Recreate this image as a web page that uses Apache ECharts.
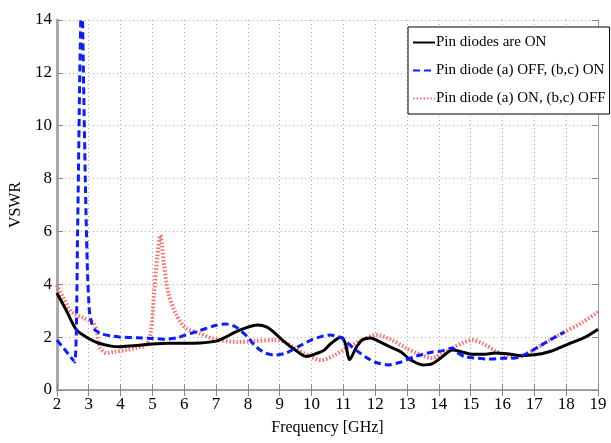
<!DOCTYPE html>
<html>
<head>
<meta charset="utf-8">
<script src="https://cdn.jsdelivr.net/npm/echarts@6/dist/echarts.min.js"></script>
<style>
  html, body { margin: 0; padding: 0; background: #fff; }
  #chart { width: 611px; height: 443px; }
</style>
</head>
<body>
<div id="chart"></div>
<script>
// x tick labels (GHz)
var xTicks = [2, 3, 4, 5, 6, 7, 8, 9, 10, 11, 12, 13, 14, 15, 16, 17, 18, 19];

// Pin diodes are ON
var freqOn = [2, 2.3, 2.62, 3.0, 3.3, 3.7, 4.0, 4.5, 5, 5.5, 6, 6.5, 7, 7.3, 7.6, 8.0, 8.3, 8.6, 8.84, 9.15, 9.5, 9.83, 10.2, 10.4, 10.6, 10.92, 11.05, 11.2, 11.4, 11.6, 11.85, 12.1, 12.47, 12.8, 13.1, 13.5, 13.8, 14.1, 14.43, 14.7, 15.05, 15.4, 15.77, 16.2, 16.6, 17.0, 17.44, 17.8, 18.16, 18.6, 19];
var vswrOn = [3.67, 3.0, 2.27, 1.95, 1.78, 1.66, 1.64, 1.68, 1.74, 1.77, 1.77, 1.78, 1.85, 2.0, 2.19, 2.38, 2.46, 2.38, 2.16, 1.82, 1.5, 1.27, 1.4, 1.51, 1.75, 2.0, 1.8, 1.15, 1.6, 1.9, 1.97, 1.85, 1.63, 1.45, 1.15, 0.95, 1.0, 1.25, 1.51, 1.45, 1.35, 1.35, 1.4, 1.36, 1.3, 1.33, 1.44, 1.6, 1.78, 2.0, 2.3];

// Pin diode (a) OFF, (b,c) ON
var freqAOff = [2, 2.3, 2.56, 2.65, 2.72, 2.78, 2.84, 2.9, 2.96, 3.02, 3.1, 3.2, 3.4, 3.7, 4.0, 4.5, 5, 5.4, 5.8, 6.04, 6.5, 7.0, 7.3, 7.6, 8.0, 8.2, 8.5, 8.84, 9.2, 9.6, 10.0, 10.3, 10.6, 10.95, 11.3, 11.7, 12.0, 12.4, 12.8, 13.2, 13.5, 13.8, 14.1, 14.43, 14.6, 14.83, 15.2, 15.57, 16.0, 16.4, 16.8, 17.13, 17.5, 17.94];
var vswrAOff = [1.89, 1.45, 1.06, 6, 12, 15.5, 11.5, 7.5, 4.5, 3.0, 2.5, 2.27, 2.12, 2.05, 2.0, 1.98, 1.95, 1.92, 1.98, 2.08, 2.25, 2.45, 2.5, 2.4, 2.0, 1.7, 1.42, 1.32, 1.4, 1.65, 1.9, 2.02, 2.08, 1.97, 1.6, 1.25, 1.05, 0.95, 1.05, 1.25, 1.35, 1.44, 1.48, 1.59, 1.4, 1.25, 1.2, 1.17, 1.2, 1.21, 1.4, 1.63, 1.9, 2.19];

// Pin diode (a) ON, (b,c) OFF
var freqAOn = [2, 2.2, 2.47, 2.84, 3.15, 3.25, 3.34, 3.55, 3.8, 4.18, 4.5, 4.8, 4.95, 5.05, 5.15, 5.25, 5.36, 5.5, 5.73, 6.04, 6.45, 6.97, 7.7, 8.2, 8.84, 9.15, 9.46, 9.9, 10.3, 10.7, 11.1, 11.6, 12.04, 12.5, 12.97, 13.3, 13.8, 14.1, 14.43, 14.75, 15.05, 15.4, 15.77, 16.1, 16.5, 16.8, 17.13, 17.5, 17.94, 18.5, 19];
var vswrAOn = [3.97, 3.5, 2.95, 2.72, 2.53, 2.2, 1.63, 1.4, 1.45, 1.51, 1.6, 1.7, 2.2, 3.6, 5.0, 5.85, 4.8, 3.67, 2.9, 2.35, 2.16, 1.92, 1.82, 1.85, 1.89, 1.82, 1.59, 1.3, 1.13, 1.3, 1.59, 1.9, 2.08, 1.9, 1.59, 1.4, 1.21, 1.38, 1.59, 1.78, 1.89, 1.75, 1.48, 1.32, 1.25, 1.4, 1.63, 1.9, 2.19, 2.55, 2.95];

var names = ['Pin diodes are ON', 'Pin diode (a) OFF, (b,c) ON', 'Pin diode (a) ON, (b,c) OFF'];

function pairs(xs, ys) {
  return xs.map(function (x, i) { return [x, ys[i]]; });
}

var font = 'Liberation Serif';
var myChart = echarts.init(document.getElementById('chart'));

var options = {
  animation: false,
  backgroundColor: '#fff',
  textStyle: { fontFamily: font, color: '#000' },
  grid: { left: 50, right: 13, top: 20, bottom: 53 },
  legend: {
    data: names,
    orient: 'vertical',
    left: 408,
    top: 27,
    width: 190,
    padding: [8, 4, 8, 4],
    itemGap: 13,
    itemWidth: 22,
    itemHeight: 10,
    backgroundColor: '#fff',
    borderColor: '#000',
    borderWidth: 1,
    itemStyle: { opacity: 0 },
    textStyle: { fontFamily: font, fontSize: 15, color: '#000', padding: [0, 0, 0, -4] }
  },
  xAxis: [{
    type: 'value',
    min: 2, max: 19, interval: 1,
    name: 'Frequency [GHz]',
    nameLocation: 'middle',
    nameGap: 30,
    nameTextStyle: { fontFamily: font, fontSize: 16, color: '#000' },
    axisLine: { lineStyle: { color: '#aaa', width: 2 } },
    axisTick: { inside: true, length: 6, lineStyle: { color: '#888' } },
    axisLabel: {
      fontFamily: font, fontSize: 17, color: '#000', margin: 6,
      formatter: function (v) { return xTicks.indexOf(v) >= 0 ? String(v) : ''; }
    },
    splitLine: { show: true, lineStyle: { color: '#aaa', type: [1, 3] } }
  }, {
    type: 'value',
    position: 'top',
    min: 2, max: 19, interval: 1,
    axisLine: { show: true, lineStyle: { color: '#999', width: 1 } },
    axisTick: { inside: true, length: 6, lineStyle: { color: '#888' } },
    axisLabel: { show: false },
    splitLine: { show: false }
  }],
  yAxis: [{
    type: 'value',
    min: 0, max: 14, interval: 2,
    name: 'VSWR',
    nameLocation: 'middle',
    nameGap: 30,
    nameTextStyle: { fontFamily: font, fontSize: 16, color: '#000' },
    axisLine: { show: true, lineStyle: { color: '#aaa', width: 3 } },
    axisTick: { show: true, inside: true, length: 6, lineStyle: { color: '#888' } },
    axisLabel: { fontFamily: font, fontSize: 17, color: '#000', margin: 5 },
    splitLine: { show: true, lineStyle: { color: '#aaa', type: [1, 3] } }
  }, {
    type: 'value',
    position: 'right',
    min: 0, max: 14, interval: 2,
    axisLine: { show: true, lineStyle: { color: '#999', width: 1 } },
    axisTick: { show: true, inside: true, length: 6, lineStyle: { color: '#888' } },
    axisLabel: { show: false },
    splitLine: { show: false }
  }],
  series: [
    {
      name: names[0],
      type: 'line',
      data: pairs(freqOn, vswrOn),
      smooth: 0.3,
      symbol: 'none',
      z: 3,
      itemStyle: { color: '#000' },
      lineStyle: { color: '#000', width: 3 }
    },
    {
      name: names[1],
      type: 'line',
      data: pairs(freqAOff, vswrAOff),
      smooth: 0.2,
      symbol: 'none',
      clip: true,
      z: 4,
      itemStyle: { color: '#0a1eff' },
      lineStyle: { color: '#0a1eff', width: 3, type: [7, 4] }
    },
    {
      name: names[2],
      type: 'line',
      data: pairs(freqAOn, vswrAOn),
      smooth: 0.3,
      symbol: 'none',
      z: 2,
      itemStyle: { color: '#ff6a6a' },
      lineStyle: { color: '#ff6a6a', width: 4, type: [1.5, 2] }
    }
  ]
};

myChart.setOption(options, true);
</script>
</body>
</html>
